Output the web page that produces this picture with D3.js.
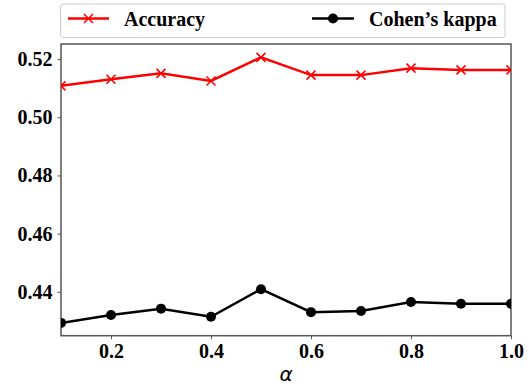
<!DOCTYPE html>
<html><head><meta charset="utf-8">
<script src="https://cdn.jsdelivr.net/npm/d3@7"></script>
<style>body{margin:0;background:#fff}svg{display:block}</style>
</head><body>
<script>
const alphas = [0.1,0.2,0.3,0.4,0.5,0.6,0.7,0.8,0.9,1.0];
const accuracy = [0.5108,0.5131,0.5151,0.5125,0.5206,0.5145,0.5145,0.5169,0.5163,0.5163];
const kappa = [0.4293,0.4320,0.4342,0.4314,0.4409,0.4330,0.4334,0.4365,0.4359,0.4359];
const xTicks = [0.2,0.4,0.6,0.8,1.0];
const yTicks = [0.44,0.46,0.48,0.50,0.52];
const seriesNames = ["Accuracy","Cohen\u2019s kappa"];

const W=529,H=387;
const m={l:61,r:18,t:44,b:51.3};
const svg=d3.select("body").append("svg").attr("width",W).attr("height",H);
const x=d3.scaleLinear().domain([0.1,1.0]).range([m.l,W-m.r]);
const y=d3.scaleLinear().domain([0.4249,0.5252]).range([H-m.b,m.t]);
const font="'Liberation Serif','Times New Roman',serif";

svg.append("clipPath").attr("id","clip").append("rect")
  .attr("x",m.l).attr("y",m.t).attr("width",W-m.l-m.r).attr("height",H-m.t-m.b);

const xa=svg.append("g").attr("transform",`translate(0,${H-m.b})`)
  .call(d3.axisBottom(x).tickValues(xTicks).tickFormat(d3.format(".1f")).tickSize(3.5).tickPadding(5));
const ya=svg.append("g").attr("transform",`translate(${m.l},0)`)
  .call(d3.axisLeft(y).tickValues(yTicks).tickFormat(d3.format(".2f")).tickSize(3.5).tickPadding(5));
[xa,ya].forEach(a=>{
  a.attr("font-family",null).attr("font-size",null);
  a.select(".domain").remove();
  a.selectAll("line").attr("stroke","#555").attr("stroke-width",1);
  a.selectAll("text").style("font-family",font).style("font-weight","bold").style("font-size","20px").attr("fill","#000");
});
svg.append("rect").attr("x",m.l).attr("y",m.t).attr("width",W-m.l-m.r).attr("height",H-m.t-m.b)
  .attr("fill","none").attr("stroke","#555").attr("stroke-width",1.5);

const g=svg.append("g").attr("clip-path","url(#clip)");
const line=d3.line().x((d,i)=>x(alphas[i])).y(d=>y(d));
g.append("path").datum(accuracy).attr("d",line).attr("fill","none").attr("stroke","#ff0000").attr("stroke-width",2.5);
g.selectAll(".xm").data(accuracy).enter().append("path")
  .attr("d",(d,i)=>{const cx=x(alphas[i]),cy=y(d),s=4.5;return `M${cx-s},${cy-s}L${cx+s},${cy+s}M${cx-s},${cy+s}L${cx+s},${cy-s}`;})
  .attr("stroke","#ff0000").attr("stroke-width",1.5);
g.append("path").datum(kappa).attr("d",line).attr("fill","none").attr("stroke","#000").attr("stroke-width",2.5);
g.selectAll(".cm").data(kappa).enter().append("circle")
  .attr("cx",(d,i)=>x(alphas[i])).attr("cy",d=>y(d)).attr("r",5).attr("fill","#000");

// x label
svg.append("text").attr("x",286).attr("y",381).attr("text-anchor","middle")
  .style("font-family","'DejaVu Sans',sans-serif").style("font-style","italic").style("font-size","20px").text("\u03b1");

// legend
const lg=svg.append("g");
lg.append("rect").attr("x",60.5).attr("y",4).attr("width",444.5).attr("height",33.5).attr("rx",3)
  .attr("fill","#fff").attr("stroke","#ccc").attr("stroke-width",1);
const ly=18.5;
lg.append("line").attr("x1",68).attr("x2",109).attr("y1",ly).attr("y2",ly).attr("stroke","#ff0000").attr("stroke-width",2.5);
lg.append("path").attr("d",`M${88.5-4.5},${ly-4.5}L${88.5+4.5},${ly+4.5}M${88.5-4.5},${ly+4.5}L${88.5+4.5},${ly-4.5}`).attr("stroke","#ff0000").attr("stroke-width",1.5);
lg.append("text").attr("x",124).attr("y",ly+7).style("font-family",font).style("font-weight","bold").style("font-size","20px").text(seriesNames[0]);
lg.append("line").attr("x1",312).attr("x2",354).attr("y1",ly).attr("y2",ly).attr("stroke","#000").attr("stroke-width",2.5);
lg.append("circle").attr("cx",333).attr("cy",ly).attr("r",5).attr("fill","#000");
lg.append("text").attr("x",369).attr("y",ly+7).style("font-family",font).style("font-weight","bold").style("font-size","20px").text(seriesNames[1]);
</script>
</body></html>
